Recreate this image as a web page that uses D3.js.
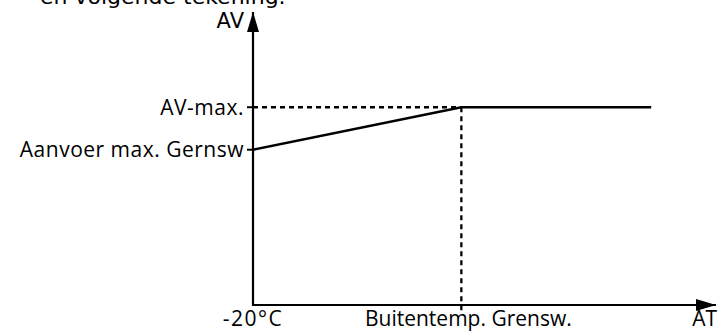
<!DOCTYPE html>
<html>
<head>
<meta charset="utf-8">
<script src="https://cdn.jsdelivr.net/npm/d3@7"></script>
<style>
  body { margin: 0; background: #fff; }
  text { font-family: "Open Sans", sans-serif; fill: #000; }
</style>
</head>
<body>
<svg id="chart"></svg>
<script>
const width = 718,
    height = 331
const margin = { top: 12, right: 2, bottom: 26, left: 253 }

// Schematic values (abstract units 0..100 on each axis)
const xTickLabels = ["-20°C", "Buitentemp. Grensw."]
const xTickValues = [0, 45]
const yTickLabels = ["Aanvoer max. Gernsw", "AV-max."]
const yTickValues = [53, 67.5]
const curveX = [0, 45, 86]
const curveY = [53, 67.5, 67.5]

const svg = d3.select('#chart')
    .attr('width', width)
    .attr('height', height)

const x = d3.scaleLinear()
    .domain([0, 100])
    .range([margin.left, width - margin.right])

const y = d3.scaleLinear()
    .domain([0, 100])
    .range([height - margin.bottom, margin.top])

// Caption text cut off at top (as in the source page)
svg.append('text')
    .attr('x', 40)
    .attr('y', 4)
    .style('font-family', '"DejaVu Sans", sans-serif')
    .style('font-size', '22px')
    .text('en volgende tekening.')

// Arrow markers
const defs = svg.append('defs')
defs.append('marker')
    .attr('id', 'arrow')
    .attr('viewBox', '0 0 20 12')
    .attr('refX', 20)
    .attr('refY', 6)
    .attr('markerWidth', 20)
    .attr('markerHeight', 12)
    .attr('markerUnits', 'userSpaceOnUse')
    .attr('orient', 'auto')
  .append('path')
    .attr('d', 'M0,0 L20,6 L0,12 Z')
    .attr('fill', '#000')

// Axes
svg.append('line')
    .attr('x1', x(0)).attr('y1', y(0))
    .attr('x2', x(100)).attr('y2', y(0))
    .attr('stroke', '#000').attr('stroke-width', 2.2)
    .attr('marker-end', 'url(#arrow)')

svg.append('line')
    .attr('x1', x(0)).attr('y1', y(0) + 1)
    .attr('x2', x(0)).attr('y2', y(100))
    .attr('stroke', '#000').attr('stroke-width', 2.2)
    .attr('marker-end', 'url(#arrow)')

svg.append('text')
    .attr('x', x(0) - 9)
    .attr('y', 28)
    .attr('text-anchor', 'end')
    .style('font-family', '"DejaVu Sans", sans-serif')
    .style('font-size', '21px')
    .text('AV')

svg.append('text')
    .attr('x', x(100) + 1)
    .attr('y', 326)
    .attr('text-anchor', 'end')
    .style('font-size', '21px')
    .text('AT')

// Y ticks
yTickValues.forEach((v, i) => {
    svg.append('line')
        .attr('x1', x(0) - 6).attr('x2', x(0))
        .attr('y1', y(v)).attr('y2', y(v))
        .attr('stroke', '#000').attr('stroke-width', 2)
    svg.append('text')
        .attr('x', x(0) - 9)
        .attr('y', y(v) + 7.5)
        .attr('text-anchor', 'end')
        .style('font-size', '21px')
        .style('letter-spacing', '0.5px')
        .text(yTickLabels[i])
})

// X tick labels
xTickValues.forEach((v, i) => {
    svg.append('text')
        .attr('x', x(v) + (i === 1 ? 7 : 0))
        .attr('y', 326)
        .attr('text-anchor', 'middle')
        .style('font-size', '21px')
        .style('letter-spacing', i === 0 ? '1.5px' : '0px')
        .text(xTickLabels[i])
})

// Dashed guide lines to the break point
const bx = curveX[1], by = curveY[1]
svg.append('line')
    .attr('x1', x(0)).attr('y1', y(by))
    .attr('x2', x(bx)).attr('y2', y(by))
    .attr('stroke', '#000').attr('stroke-width', 2.3)
    .attr('stroke-dasharray', '5,4')
svg.append('line')
    .attr('x1', x(bx)).attr('y1', y(by))
    .attr('x2', x(bx)).attr('y2', 313)
    .attr('stroke', '#000').attr('stroke-width', 2.3)
    .attr('stroke-dasharray', '5,4')

// Heating curve
const line = d3.line()
    .x(d => x(d[0]))
    .y(d => y(d[1]))

svg.append('path')
    .datum(curveX.map((v, i) => [v, curveY[i]]))
    .attr('d', line)
    .attr('fill', 'none')
    .attr('stroke', '#000')
    .attr('stroke-width', 2.6)
</script>
</body>
</html>
